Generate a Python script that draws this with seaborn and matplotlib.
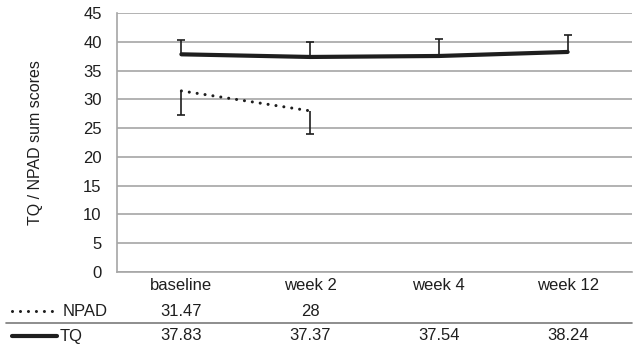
"""TQ / NPAD sum scores over time, with data table below."""

import matplotlib
matplotlib.use('Agg')
import matplotlib.pyplot as plt
import matplotlib.transforms as mtransforms
from matplotlib.lines import Line2D
import seaborn as sns
import pandas as pd
import numpy as np

# data
visits = ["baseline", "week 2", "week 4", "week 12"]
tq_mean = [37.83, 37.37, 37.54, 38.24]
tq_sd = [2.5, 2.6, 2.9, 2.9]          # upper error only
npad_mean = [31.47, 28.0]
npad_sd = [4.2, 4.1]                  # lower error only
npad_labels = ["31.47", "28", "", ""]
tq_labels = ["37.83", "37.37", "37.54", "38.24"]
y_ticks = list(range(0, 46, 5))

sns.set_style("white")
plt.rcParams['font.family'] = ['Liberation Sans', 'DejaVu Sans']

ink = "#1e1e1e"
grid_c = "#a6a6a6"
fs = 12

tq_df = pd.DataFrame({"visit": visits, "score": tq_mean})
npad_df = pd.DataFrame({"visit": visits[:len(npad_mean)], "score": npad_mean})

fig = plt.figure(figsize=(6.38, 3.53), dpi=100)
ax = fig.add_axes([0.1834, 0.2295, 0.8072, 0.7335])

pos = {v: i for i, v in enumerate(visits)}

# error bars (one-sided)
x_tq = [pos[v] for v in tq_df["visit"]]
tq_top = np.array(tq_mean) + np.array(tq_sd)
ax.vlines(x_tq, tq_df["score"], tq_top, color=ink, lw=1.2, zorder=2)
ax.scatter(x_tq, tq_top, marker="_", s=40, color=ink, linewidths=1.2, zorder=2)
x_np = [pos[v] for v in npad_df["visit"]]
np_bot = np.array(npad_mean) - np.array(npad_sd)
ax.vlines(x_np, np_bot, npad_df["score"], color=ink, lw=1.2, zorder=2)
ax.scatter(x_np, np_bot, marker="_", s=40, color=ink, linewidths=1.2, zorder=2)

sns.lineplot(data=tq_df, x="visit", y="score", ax=ax, color=ink, lw=3, sort=False, zorder=3)
sns.lineplot(data=npad_df, x="visit", y="score", ax=ax, color=ink, lw=2.2,
             linestyle=(0, (0.01, 2.6)), dash_capstyle="round", sort=False, zorder=3)

ax.set_xlim(-0.5, len(visits) - 0.5)
ax.set_ylim(0, 45)
ax.set_yticks(y_ticks)
ax.yaxis.grid(True, color=grid_c, lw=1.2)
ax.set_axisbelow(True)
for s in ["top", "right"]:
    ax.spines[s].set_visible(False)
for s in ["left", "bottom"]:
    ax.spines[s].set_color(grid_c)
    ax.spines[s].set_linewidth(1.2)
ax.tick_params(axis="both", length=0, labelsize=fs, colors=ink)
ax.tick_params(axis="y", pad=11)
ax.tick_params(axis="x", pad=4)
ax.set_xlabel("")
ax.set_ylabel("TQ / NPAD sum scores", fontsize=11.5, color=ink)
ax.yaxis.set_label_coords(-74 / 515, 0.5)

# data table below the plot
trans = mtransforms.blended_transform_factory(ax.transData, fig.transFigure)
row_y = [1 - 311 / 353, 1 - 336 / 353]
for i, (a, b) in enumerate(zip(npad_labels, tq_labels)):
    ax.text(i, row_y[0], a, transform=trans, ha="center", va="center", fontsize=fs, color=ink)
    ax.text(i, row_y[1], b, transform=trans, ha="center", va="center", fontsize=fs, color=ink)

fig.text(63 / 638, row_y[0], "NPAD", ha="left", va="center", fontsize=fs, color=ink)
fig.text(60 / 638, row_y[1], "TQ", ha="left", va="center", fontsize=fs, color=ink)
fig.add_artist(Line2D([12 / 638, 52 / 638], [row_y[0], row_y[0]], color=ink, lw=2.2,
                      linestyle=(0, (0.01, 2.6)), dash_capstyle="round"))
fig.add_artist(Line2D([12 / 638, 57 / 638], [row_y[1], row_y[1]], color=ink, lw=3))
fig.add_artist(Line2D([6 / 638, 632 / 638], [1 - 323 / 353] * 2, color="#7a7a7a", lw=1.2))

plt.savefig("out.png", dpi=100)
plt.close()
